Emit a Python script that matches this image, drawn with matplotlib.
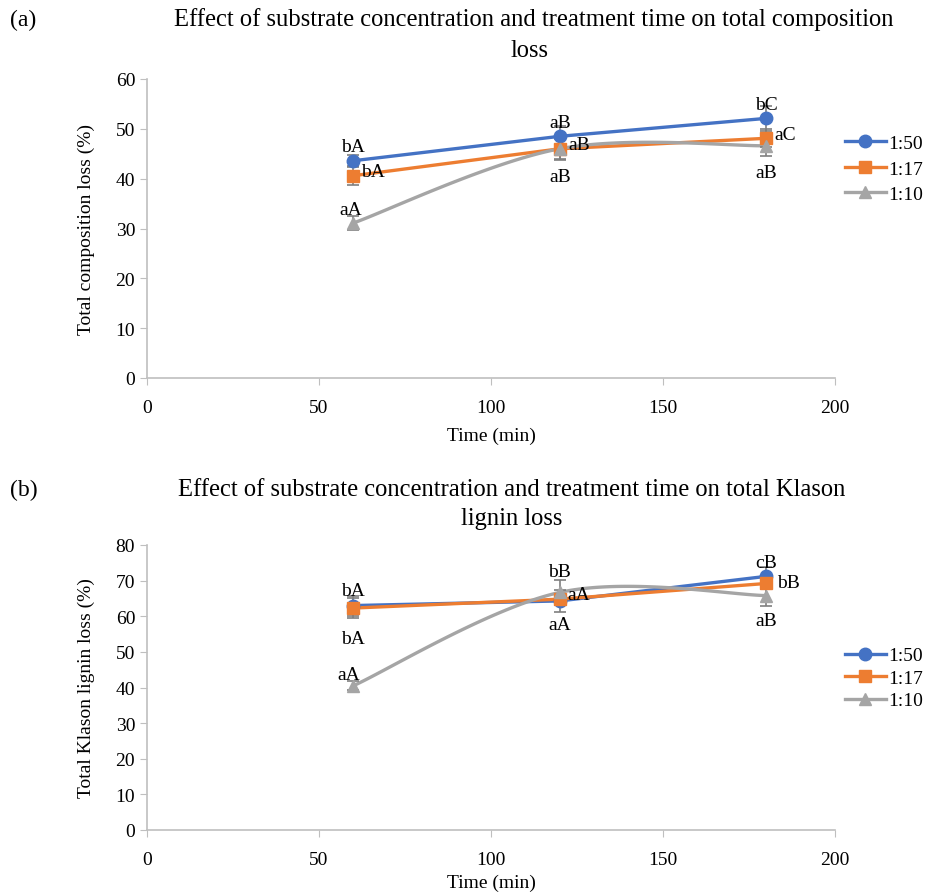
import matplotlib
matplotlib.use("Agg")
import matplotlib.pyplot as plt
from matplotlib.lines import Line2D
import numpy as np

plt.rcParams['font.family'] = ['Liberation Serif', 'DejaVu Serif']
plt.rcParams['font.size'] = 14

time = [60, 120, 180]
ratios = ["1:50", "1:17", "1:10"]
colors = ["#4472C4", "#ED7D31", "#A5A5A5"]
markers = ["o", "s", "^"]

# (a) total composition loss (%)
comp_loss = {
    "1:50": [43.6, 48.5, 52.1],
    "1:17": [40.6, 46.0, 48.1],
    "1:10": [31.1, 46.0, 46.6],
}
comp_err = {
    "1:50": [1.2, 2.0, 2.5],
    "1:17": [1.9, 2.3, 1.8],
    "1:10": [1.5, 2.0, 2.1],
}
comp_labels = {
    "1:50": ["bA", "aB", "bC"],
    "1:17": ["bA", "aB", "aC"],
    "1:10": ["aA", "aB", "aB"],
}

# (b) total Klason lignin loss (%)
lig_loss = {
    "1:50": [63.0, 64.3, 71.2],
    "1:17": [62.3, 64.8, 69.2],
    "1:10": [40.5, 66.7, 65.8],
}
lig_err = {
    "1:50": [2.8, 3.1, 2.5],
    "1:17": [2.9, 1.5, 1.5],
    "1:10": [1.2, 3.5, 3.0],
}
lig_labels = {
    "1:50": ["bA", "aA", "cB"],
    "1:17": ["bA", "aA", "bB"],
    "1:10": ["aA", "bB", "aB"],
}

# where each letter label sits relative to its point (points)
A = (0, 10)
R = (14, 3)
place_a = {
    "1:50": [A, A, A],
    "1:17": [R, R, R],
    "1:10": [(-2, 10), (0, -20), (0, -19)],
}
place_b = {
    "1:50": [(0, 11), (0, -17), (0, 10)],
    "1:17": [(0, -22), (14, 3), (16, 1)],
    "1:10": [(-3, 8), (0, 15), (0, -18)],
}


def smooth(x, y, n=60):
    # Excel style smoothed line (Catmull-Rom through Bezier segments)
    x = np.asarray(x, float)
    y = np.asarray(y, float)
    px = np.concatenate([[x[0]], x, [x[-1]]])
    py = np.concatenate([[y[0]], y, [y[-1]]])
    xs, ys = [], []
    t = np.linspace(0, 1, n)
    for i in range(1, len(px) - 2):
        p0 = np.array([px[i], py[i]])
        p3 = np.array([px[i + 1], py[i + 1]])
        p1 = p0 + (np.array([px[i + 1], py[i + 1]]) - np.array([px[i - 1], py[i - 1]])) / 6
        p2 = p3 - (np.array([px[i + 2], py[i + 2]]) - p0) / 6
        pts = ((1 - t) ** 3)[:, None] * p0 + (3 * (1 - t) ** 2 * t)[:, None] * p1 \
            + (3 * (1 - t) * t ** 2)[:, None] * p2 + (t ** 3)[:, None] * p3
        xs.extend(pts[:, 0])
        ys.extend(pts[:, 1])
    return xs, ys


def draw(ax, vals, errs, labels, place, ymax, ylabel, xpad):
    for r, c, m in zip(ratios, colors, markers):
        if r == "1:10":
            sx, sy = smooth(time, vals[r])
            ax.plot(sx, sy, color=c, lw=2.4, zorder=2)
        else:
            ax.plot(time, vals[r], color=c, lw=2.4, zorder=2)
        ax.errorbar(time, vals[r], yerr=errs[r], fmt="none", ecolor="#7f7f7f",
                    elinewidth=1.2, capsize=4, capthick=1.2, zorder=3)
        ax.plot(time, vals[r], ls="none", marker=m, ms=9, color=c, zorder=4)
        for xi, yi, lab, off in zip(time, vals[r], labels[r], place[r]):
            ax.annotate(lab, (xi, yi), xytext=off, textcoords="offset points",
                        ha="center", va="center", fontsize=14, zorder=5)
    ax.set_xlim(0, 200)
    ax.set_ylim(0, ymax)
    ax.set_xticks(range(0, 201, 50))
    ax.set_yticks(range(0, ymax + 1, 10))
    for s in ["top", "right"]:
        ax.spines[s].set_visible(False)
    for s in ["left", "bottom"]:
        ax.spines[s].set_color("#bfbfbf")
        ax.spines[s].set_linewidth(1.2)
    ax.tick_params(direction="out", length=5, color="#bfbfbf", labelsize=14)
    ax.tick_params(axis="x", pad=10)
    ax.set_xlabel("Time (min)", fontsize=14, labelpad=xpad)
    ax.set_ylabel(ylabel, fontsize=14, labelpad=15)


fig = plt.figure(figsize=(9.29, 8.95), dpi=100)
ax1 = fig.add_axes([147 / 929, 1 - 379 / 895, 688 / 929, 299 / 895])
ax2 = fig.add_axes([147 / 929, 1 - 831 / 895, 688 / 929, 285 / 895])

draw(ax1, comp_loss, comp_err, comp_labels, place_a, 60, "Total composition loss (%)", 8)
draw(ax2, lig_loss, lig_err, lig_labels, place_b, 80, "Total Klason lignin loss (%)", 4)

handles = [Line2D([0], [0], color=c, lw=2.4, marker=m, ms=9) for c, m in zip(colors, markers)]
ax1.legend(handles, ratios, loc="center left", bbox_to_anchor=(1.0, 0.70), frameon=False,
           fontsize=14, handlelength=2.1, labelspacing=0.4, handletextpad=0.15,
           borderaxespad=0.1, borderpad=0.4)
ax2.legend(handles, ratios, loc="center left", bbox_to_anchor=(1.0, 0.533), frameon=False,
           fontsize=14, handlelength=2.1, labelspacing=0.25, handletextpad=0.15,
           borderaxespad=0.1, borderpad=0.4)

fig.text(10 / 929, 1 - 20 / 895, "(a)", fontsize=17, ha="left", va="center")
fig.text(534 / 929, 1 - 20 / 895, "Effect of substrate concentration and treatment time on total composition",
         fontsize=17.7, ha="center", va="center")
fig.text(530 / 929, 1 - 51 / 895, "loss", fontsize=17.7, ha="center", va="center")
fig.text(10 / 929, 1 - 490 / 895, "(b)", fontsize=17, ha="left", va="center")
fig.text(512 / 929, 1 - 490 / 895, "Effect of substrate concentration and treatment time on total Klason",
         fontsize=17.7, ha="center", va="center")
fig.text(512 / 929, 1 - 519 / 895, "lignin loss", fontsize=17.7, ha="center", va="center")

fig.savefig("out.png", dpi=100)
